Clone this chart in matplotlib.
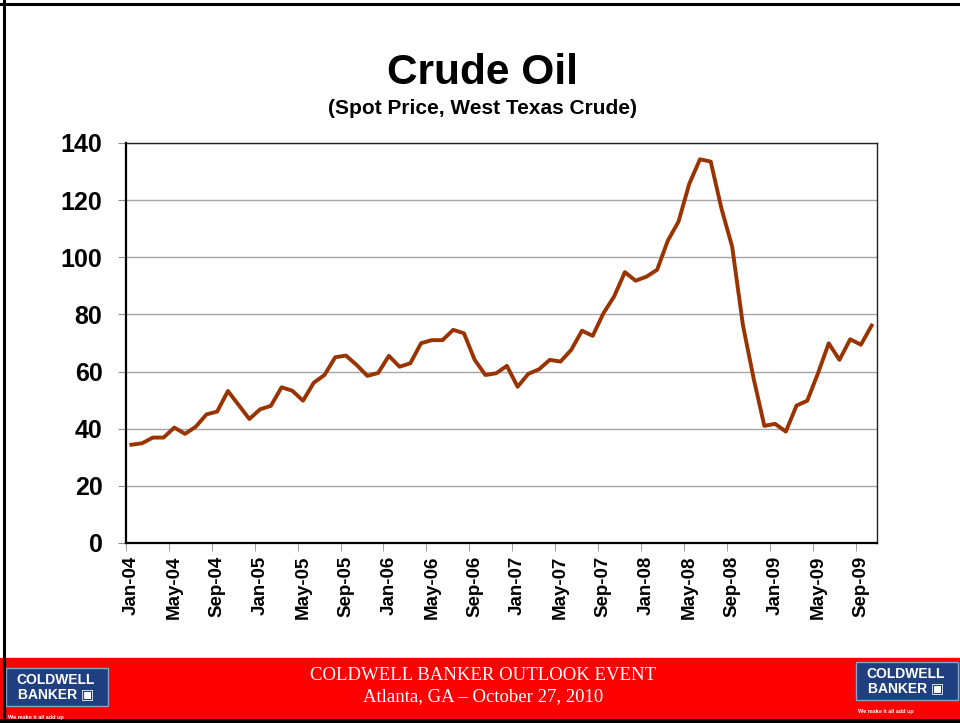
import matplotlib.pyplot as plt
from matplotlib.patches import Rectangle
from matplotlib.lines import Line2D

plt.rcParams['font.family'] = ['Liberation Sans', 'DejaVu Sans']

# Monthly spot price, Jan-04 .. Oct-09
months = ['Jan', 'Feb', 'Mar', 'Apr', 'May', 'Jun',
          'Jul', 'Aug', 'Sep', 'Oct', 'Nov', 'Dec']
years = ['04', '05', '06', '07', '08', '09']
prices = [34.4, 34.9, 36.9, 36.9, 40.4, 38.2, 40.7, 45.0, 46.0, 53.2, 48.3, 43.4,
          46.8, 48.0, 54.5, 53.3, 49.8, 56.1, 58.8, 65.0, 65.6, 62.3, 58.5, 59.5,
          65.5, 61.7, 62.9, 69.9, 71.0, 71.0, 74.6, 73.4, 64.1, 58.8, 59.4, 62.0,
          54.7, 59.2, 60.8, 64.1, 63.5, 67.6, 74.3, 72.5, 80.4, 86.3, 94.8, 91.8,
          93.2, 95.6, 105.8, 112.5, 125.7, 134.3, 133.5, 117.1, 103.7, 76.3, 57.6, 41.0,
          41.7, 39.0, 48.1, 49.8, 59.4, 69.9, 64.1, 71.3, 69.4, 76.1]
labels = [m + '-' + y for y in years for m in months][:len(prices)]

title = 'Crude Oil'
subtitle = '(Spot Price, West Texas Crude)'
footer1 = 'COLDWELL BANKER OUTLOOK EVENT'
footer2 = 'Atlanta, GA \u2013 October 27, 2010'

fig = plt.figure(figsize=(9.6, 7.23), dpi=100)
ax = fig.add_axes([126 / 960, 1 - 543 / 723, 751 / 960, 400 / 723])

x = list(range(len(prices)))
ax.plot(x, prices, color='#993300', lw=2.8, solid_joinstyle='round', zorder=3)

ax.set_xlim(-0.5, len(prices) - 0.5)
ax.set_ylim(0, 140)
ax.set_yticks(range(0, 141, 20))
ax.grid(axis='y', color='#a6a6a6', lw=1)
ax.set_axisbelow(True)

# labels on category centres, tick marks on category boundaries
ax.set_xticks(x[::4])
ax.set_xticklabels(labels[::4], rotation=90, fontsize=13.5, fontweight='bold')
ax.set_xticks([i - 0.5 for i in x[::4]], minor=True)
ax.tick_params(axis='x', which='major', length=0, pad=9)
ax.tick_params(axis='x', which='minor', length=6, color='#909090', direction='out')
ax.tick_params(axis='y', length=6, color='#909090', pad=11, labelsize=18)
for t in ax.get_yticklabels():
    t.set_fontweight('bold')

for side in ['left', 'bottom']:
    ax.spines[side].set_linewidth(1.6)
    ax.spines[side].set_color('black')
for side in ['top', 'right']:
    ax.spines[side].set_linewidth(1.0)
    ax.spines[side].set_color('#222222')

fig.text(0.503, 1 - 73 / 723, title, ha='center', va='center',
         fontsize=30.5, fontweight='bold')
fig.text(0.503, 1 - 109 / 723, subtitle, ha='center', va='center',
         fontsize=15, fontweight='bold')

# footer band
fig.patches.append(Rectangle((0, 5 / 723), 1, 60 / 723, transform=fig.transFigure,
                             color='#ff0000', zorder=0))
fig.text(0.503, 1 - 675 / 723, footer1, ha='center', va='center', color='white',
         fontsize=13.5, family=['Liberation Serif', 'DejaVu Serif'])
fig.text(0.503, 1 - 697 / 723, footer2, ha='center', va='center', color='white',
         fontsize=13.5, family=['Liberation Serif', 'DejaVu Serif'])

# logos
for x0, y0 in [(6, 668), (856, 662)]:
    fig.patches.append(Rectangle((x0 / 960, 1 - (y0 + 38) / 723), 102 / 960, 38 / 723,
                                 transform=fig.transFigure, facecolor='#1f3f80',
                                 edgecolor='#8aa0c8', lw=1, zorder=1))
    fig.text((x0 + 50) / 960, 1 - (y0 + 12) / 723, 'COLDWELL', ha='center', va='center',
             color='white', fontsize=10, fontweight='bold', zorder=2)
    fig.text((x0 + 50) / 960, 1 - (y0 + 26) / 723, 'BANKER \u25a3', ha='center', va='center',
             color='white', fontsize=10, fontweight='bold', zorder=2)
    fig.text((x0 + 2) / 960, 1 - (y0 + 49) / 723, 'We make it all add up', ha='left',
             va='center', color='white', fontsize=4, fontweight='bold', zorder=2)

# slide frame
fig.lines.append(Line2D([3.5 / 960, 3.5 / 960], [0, 1], transform=fig.transFigure,
                        color='black', lw=2.2))
fig.lines.append(Line2D([0, 1], [1 - 3.5 / 723, 1 - 3.5 / 723], transform=fig.transFigure,
                        color='black', lw=2.2))
fig.lines.append(Line2D([0, 1], [2.5 / 723, 2.5 / 723], transform=fig.transFigure,
                        color='black', lw=3.6))

fig.savefig('out.png', dpi=100)
